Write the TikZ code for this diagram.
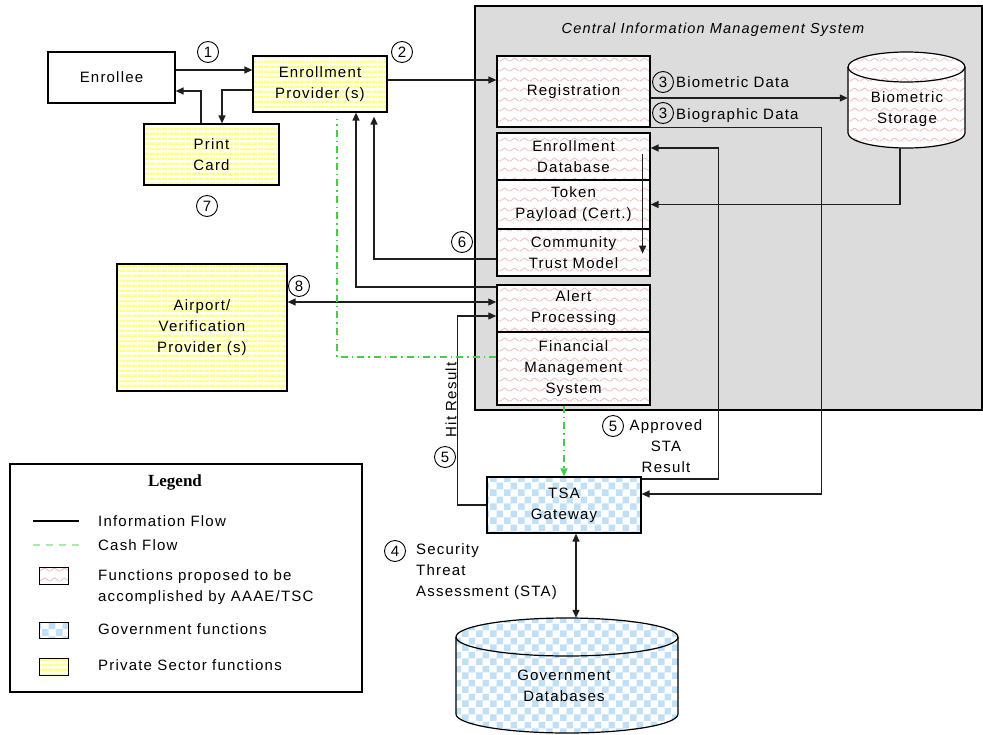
\documentclass[tikz,border=0pt]{standalone}
\usepackage{fontspec}
\setmainfont{Liberation Sans}[LetterSpace=8]
\newfontfamily\legfont{Liberation Serif}
\newfontfamily\numfont{Liberation Sans}
\usetikzlibrary{arrows.meta,patterns,calc}

\pgfdeclarepatternformonly{zzpink}{\pgfpointorigin}{\pgfpoint{10pt}{10pt}}{\pgfpoint{10pt}{10pt}}{%
  \pgfsetlinewidth{0.7pt}%
  \pgfpathmoveto{\pgfpoint{0pt}{3pt}}%
  \pgfpathlineto{\pgfpoint{5pt}{6.5pt}}%
  \pgfpathlineto{\pgfpoint{10pt}{3pt}}%
  \pgfusepath{stroke}}
\pgfdeclarepatternformonly{chkblue}{\pgfpointorigin}{\pgfpoint{14pt}{14pt}}{\pgfpoint{14pt}{14pt}}{%
  \pgfpathrectangle{\pgfpointorigin}{\pgfpoint{7pt}{7pt}}%
  \pgfpathrectangle{\pgfpoint{7pt}{7pt}}{\pgfpoint{7pt}{7pt}}%
  \pgfusepath{fill}}
\pgfdeclarepatternformonly{ystripe}{\pgfpointorigin}{\pgfpoint{6pt}{4.5pt}}{\pgfpoint{6pt}{4.5pt}}{%
  \pgfpathrectangle{\pgfpointorigin}{\pgfpoint{6pt}{2.6pt}}%
  \pgfusepath{fill}}

\definecolor{pinkz}{RGB}{236,178,178}
\definecolor{yel}{RGB}{255,255,140}
\definecolor{blu}{RGB}{192,224,248}
\definecolor{cimsbg}{RGB}{220,220,220}
\definecolor{cashc}{RGB}{70,205,70}
\definecolor{linec}{RGB}{30,30,30}

\begin{document}
\begin{tikzpicture}[x=1pt,y=-1pt,
  every node/.style={font=\fontsize{15}{21}\selectfont, inner sep=1pt},
  box/.style={draw=black, line width=1.2pt, align=center},
  aaae/.style={box, preaction={fill=white}, pattern=zzpink, pattern color=pinkz},
  priv/.style={box, preaction={fill=white}, pattern=ystripe, pattern color=yel},
  govf/.style={box, preaction={fill=white}, pattern=chkblue, pattern color=blu},
  numc/.style={circle, draw=black, line width=0.9pt, inner sep=0pt, minimum size=21pt, font=\numfont\fontsize{15}{15}\selectfont},
  arr/.style={draw=linec, line width=1.3pt, -{Triangle[length=8pt,width=7pt]}},
  arrb/.style={draw=linec, line width=1.3pt, {Triangle[length=8pt,width=7pt]}-{Triangle[length=8pt,width=7pt]}},
  cash/.style={draw=cashc, line width=1.3pt, dash pattern=on 7pt off 4pt on 1.5pt off 4pt},
  lbl/.style={anchor=west, inner sep=0pt, align=left}
]
\useasboundingbox (0,0) rectangle (983,734);

% Central Information Management System area
\node[draw=black, line width=1.2pt, fill=cimsbg, minimum width=507pt, minimum height=404pt, inner sep=0pt] (cims) at (728.5,208) {};
\node[font=\itshape\fontsize{14.5}{18}\selectfont] (cimst) at (713,30) {Central Information Management System};

% left side boxes
\node[box, minimum width=127pt, minimum height=51pt] (enrollee) at (111.5,77.5) {Enrollee};
\node[priv, minimum width=134pt, minimum height=56pt] (ep) at (320,84) {Enrollment\\Provider (s)};
\node[priv, minimum width=135pt, minimum height=61pt] (print) at (211.5,154.5) {Print\\Card};
\node[priv, minimum width=170pt, minimum height=127pt] (airport) at (202,327.5) {Airport/\\Verification\\Provider (s)};

% CIMS functions
\node[aaae, minimum width=153pt, minimum height=71pt] (reg) at (573.5,91.5) {Registration};
\node[aaae, minimum width=153pt, minimum height=47pt] (edb) at (573.5,156.5) {Enrollment\\Database};
\node[aaae, minimum width=153pt, minimum height=49pt] (token) at (573.5,204.5) {Token\\Payload (Cert.)};
\node[aaae, minimum width=153pt, minimum height=47pt] (ctm) at (573.5,252.5) {Community\\Trust Model};
\node[aaae, minimum width=153pt, minimum height=47pt, line width=1.5pt] (alert) at (573.5,308.5) {Alert\\Processing};
\node[aaae, minimum width=153pt, minimum height=73pt, line width=1.5pt] (fin) at (573.5,368.5) {Financial\\Management\\System};

% Biometric storage cylinder
\path[draw=black, line width=1.2pt, preaction={fill=white}, pattern=zzpink, pattern color=pinkz]
  (848,67) -- (848,133) arc[start angle=180, end angle=0, x radius=58.5, y radius=15]
  -- (965,67) arc[start angle=0, end angle=-180, x radius=58.5, y radius=15] -- cycle;
\draw[line width=1.2pt] (848,67) arc[start angle=180, end angle=0, x radius=58.5, y radius=15];
\node[minimum width=117pt, minimum height=96pt, inner sep=0pt] (bio) at (906.5,100) {};
\node[align=center] (biot) at (907,109) {Biometric\\Storage};

% TSA gateway
\node[govf, minimum width=154pt, minimum height=56pt] (tsa) at (564,505) {TSA\\Gateway};

% Government databases cylinder
\path[draw=black, line width=1.2pt, preaction={fill=white}, pattern=chkblue, pattern color=blu]
  (456,637) -- (456,714) arc[start angle=180, end angle=0, x radius=111, y radius=19]
  -- (678,637) arc[start angle=0, end angle=-180, x radius=111, y radius=19] -- cycle;
\draw[line width=1.2pt] (456,637) arc[start angle=180, end angle=0, x radius=111, y radius=19];
\node[minimum width=222pt, minimum height=115pt, inner sep=0pt] (gov) at (567,675.5) {};
\node[align=center] (govt) at (564,686) {Government\\Databases};

% connectors
\draw[arr] ([yshift=7.5pt]enrollee.east) -- ([yshift=7.5pt]enrollee.east -| ep.west);
\draw[arr] ([yshift=-6pt]ep.west) -| ([xshift=10.5pt]print.north);
\draw[arr] ([xshift=-10.5pt]print.north) |- ([yshift=-13.5pt]enrollee.east);
\draw[arr] ([yshift=4pt]ep.east) -- ([yshift=4pt]ep.east -| reg.west);
\draw[arr] ([yshift=-6.5pt]reg.east) -- ([yshift=-6.5pt]reg.east -| bio.west);
\draw[arr] (reg.south east) -- ++(171,0) |- ([yshift=11pt]tsa.east);
\draw[arr] ([yshift=26pt]tsa.east) -- ++(77,0) |- ([yshift=8.5pt]edb.east);
\draw[arr] ([xshift=-6.5pt]bio.south) |- (token.east);
\draw[arr] ([xshift=-8pt,yshift=-22pt]edb.north east) -- ([xshift=-8pt,yshift=23pt]ctm.south east);
\draw[arr] ([yshift=-6.5pt]ctm.west) -| ([xshift=54pt,yshift=-4pt]ep.south);
\draw[arr] ([yshift=21.5pt]alert.west) -| ([xshift=36pt]ep.south);
\draw[arrb] ([yshift=25.5pt]airport.east) -- ([yshift=25.5pt]airport.east -| alert.west);
\draw[arr] (tsa.west) -- ++(-29,0) |- ([yshift=-7.5pt]alert.west);
\draw[cash] ([yshift=11.5pt]fin.west) -| ([xshift=17pt,yshift=-6pt]ep.south);
\draw[cash, -{Triangle[length=8pt,width=7pt]}] (fin.south -| tsa.north) -- (tsa.north);
\draw[arrb] ([xshift=12pt]tsa.south) -- ([xshift=12pt]tsa.south |- gov.north);

% step numbers and labels
\node[numc] (n1) at (208,52) {1};
\node[numc] (n2) at (402,52) {2};
\node[numc] (n3a) at (663,82) {3};
\node[lbl] (t3a) at (676,82) {Biometric Data};
\node[numc] (n3b) at (663,113) {3};
\node[lbl] (t3b) at (676,116) {Biographic Data};
\node[numc] (n6) at (462,242) {6};
\node[numc] (n7) at (207,206) {7};
\node[numc] (n8) at (299,286) {8};
\node[numc] (n5a) at (445,457) {5};
\node[rotate=90] (hit) at (451,400) {Hit Result};
\node[numc] (n5b) at (613,426) {5};
\node[align=center] (appr) at (666,446) {Approved\\STA\\Result};
\node[numc] (n4) at (395,551) {4};
\node[lbl] (sta) at (416,571.5) {Security\\Threat\\Assessment (STA)};

% legend
\node[draw=black, line width=1.1pt, minimum width=352pt, minimum height=228pt, inner sep=0pt] (legend) at (186,578) {};
\node[font=\legfont\bfseries\fontsize{17}{17}\selectfont] (legt) at (175,482) {Legend};
\draw[line width=1.2pt] (33,521) -- (79,521);
\node[lbl] (lg1) at (98,521) {Information Flow};
\draw[draw=cashc!45, line width=1.2pt, dash pattern=on 7pt off 6pt] (33,545) -- (79,545);
\node[lbl] (lg2) at (98,545) {Cash Flow};
\node[aaae, line width=1pt, minimum width=29pt, minimum height=17pt, inner sep=0pt] (lgb1) at (53.5,575.5) {};
\node[lbl] (lg3) at (98,587.5) {Functions proposed to be\\accomplished by AAAE/TSC};
\node[govf, line width=1pt, minimum width=29pt, minimum height=16pt, inner sep=0pt] (lgb2) at (53.5,630) {};
\node[lbl] (lg4) at (98,629) {Government functions};
\node[priv, line width=1pt, minimum width=29pt, minimum height=17pt, inner sep=0pt] (lgb3) at (53.5,666.5) {};
\node[lbl] (lg5) at (98,665) {Private Sector functions};
\end{tikzpicture}
\end{document}
